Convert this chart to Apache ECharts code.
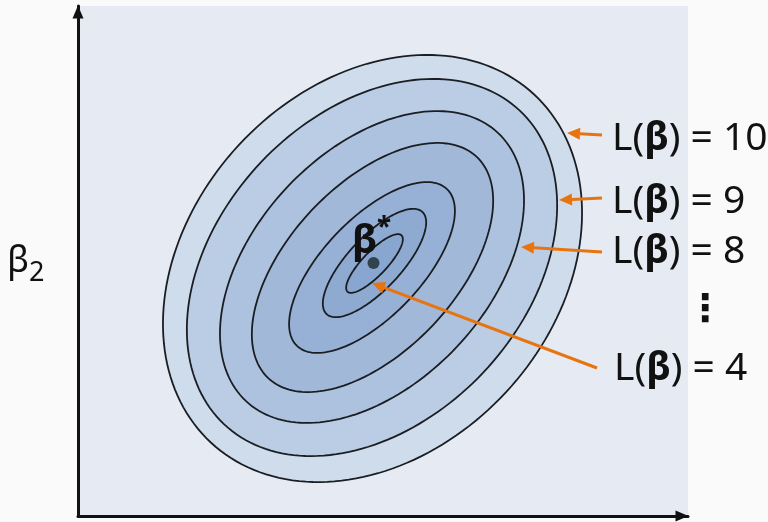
<!DOCTYPE html>
<html>
<head>
<meta charset="utf-8">
<script src="https://cdn.jsdelivr.net/npm/echarts@6/dist/echarts.min.js"></script>
<style>
  html, body { margin: 0; padding: 0; background: #fafafa; }
  #chart { width: 768px; height: 522px; }
</style>
</head>
<body>
<div id="chart"></div>
<script>
// Level sets of the loss L(β), outermost contour first (data units: β1 across, β2 up)
const levels    = [10, 9, 8, 7, 6, 5, 4];
const centerX   = [5.89, 5.88, 5.88, 5.89, 5.88, 5.93, 5.93];
const centerY   = [4.95, 4.97, 4.98, 4.97, 4.97, 5.06, 5.05];
const semiMajor = [4.75, 4.31, 3.68, 3.04, 2.17, 1.40, 0.78];
const semiMinor = [3.64, 3.06, 2.33, 1.67, 0.98, 0.53, 0.24];
const tiltDeg   = [47.1, 46.6, 46.7, 46.7, 46.3, 46.8, 46.2];

// The minimiser β*
const minimum = [5.91, 5.06];

// Annotated levels and the arrows pointing at their contours
const labelledLevels = [10, 9, 8, 4];
const arrowTail = [[10.48, 7.62], [10.48, 6.36], [10.48, 5.28], [10.38, 2.96]];
const arrowTip  = [[9.78, 7.66], [9.62, 6.32], [8.86, 5.38], [5.88, 4.66]];

// Axis ranges
const xRange = [0, 12.2];
const yRange = [0, 10.2];

// Styling
const ringColors = ['#cfdcec', '#bbcde4', '#adc2de', '#a1b8d9', '#97b0d5', '#8eaad1', '#88a6cf'];
const orange = '#e8740f';
const font = 'Noto Sans';
const labelPos = [[612, 139], [612, 202], [612, 252], [614, 369]];

const chart = echarts.init(document.getElementById('chart'), null, { renderer: 'canvas' });

function ellipsePoints(api, i) {
  const th = tiltDeg[i] * Math.PI / 180;
  const c = Math.cos(th), s = Math.sin(th);
  const pts = [];
  const n = 180;
  for (let k = 0; k < n; k++) {
    const t = 2 * Math.PI * k / n;
    const u = semiMajor[i] * Math.cos(t), v = semiMinor[i] * Math.sin(t);
    pts.push(api.coord([centerX[i] + u * c - v * s, centerY[i] + u * s + v * c]));
  }
  return pts;
}

const graphics = labelledLevels.map((lv, i) => ({
  type: 'text',
  x: labelPos[i][0],
  y: labelPos[i][1],
  z: 100,
  style: {
    text: '{n|L(}{b|β}{n|) = ' + lv + '}',
    verticalAlign: 'middle',
    rich: {
      n: { fontFamily: font, fontSize: 39, fill: '#111' },
      b: { fontFamily: font, fontSize: 39, fontWeight: 'bold', fill: '#111' }
    }
  }
}));

graphics.push(
  { type: 'text', x: 705, y: 311, z: 100,
    style: { text: '⋮', fontFamily: 'DejaVu Sans', fontSize: 38, fontWeight: 'bold', fill: '#111', align: 'center', verticalAlign: 'middle' } },
  { type: 'text', x: 7, y: 262, z: 100,
    style: { text: 'β', fontFamily: font, fontSize: 36, fill: '#111', verticalAlign: 'middle' } },
  { type: 'text', x: 29, y: 273, z: 100,
    style: { text: '2', fontFamily: font, fontSize: 27, fill: '#111', verticalAlign: 'middle' } },
  { type: 'text', x: 352, y: 242, z: 100,
    style: { text: 'β', fontFamily: font, fontSize: 40, fontWeight: 'bold', fill: '#111', verticalAlign: 'middle' } },
  { type: 'text', x: 377, y: 229, z: 100,
    style: { text: '*', fontFamily: font, fontSize: 26, fontWeight: 'bold', fill: '#111', verticalAlign: 'middle' } }
);

const axisLineStyle = {
  show: true, onZero: false,
  symbol: ['none', 'triangle'], symbolSize: [11, 13], symbolOffset: [0, -6],
  lineStyle: { color: '#111', width: 3 }
};

chart.setOption({
  backgroundColor: '#fafafa',
  animation: false,
  grid: {
    left: 78, top: 6, width: 610, height: 510,
    show: true, backgroundColor: '#e6ebf3', borderWidth: 0
  },
  xAxis: {
    type: 'value', min: xRange[0], max: xRange[1],
    splitLine: { show: false }, axisTick: { show: false }, axisLabel: { show: false },
    axisLine: axisLineStyle
  },
  yAxis: {
    type: 'value', min: yRange[0], max: yRange[1],
    splitLine: { show: false }, axisTick: { show: false }, axisLabel: { show: false },
    axisLine: axisLineStyle
  },
  graphic: graphics,
  series: [
    {
      type: 'custom',
      name: 'contours',
      data: levels.map((lv, i) => [i, lv]),
      renderItem: (params, api) => {
        const i = api.value(0);
        return {
          type: 'polygon',
          shape: { points: ellipsePoints(api, i) },
          style: { fill: ringColors[i], stroke: '#1a1e22', lineWidth: 1.8 }
        };
      },
      z: 2
    },
    {
      type: 'scatter',
      name: 'minimum',
      data: [minimum],
      symbolSize: 12,
      itemStyle: { color: '#1b2a2a' },
      z: 3
    },
    {
      type: 'custom',
      name: 'arrows',
      clip: false,
      data: labelledLevels.map((lv, i) => [i, lv]),
      renderItem: (params, api) => {
        const i = api.value(0);
        const p0 = api.coord(arrowTail[i]);
        const p1 = api.coord(arrowTip[i]);
        const dx = p1[0] - p0[0], dy = p1[1] - p0[1];
        const len = Math.hypot(dx, dy);
        const ux = dx / len, uy = dy / len;
        const hl = 13, hw = 6;
        const bx = p1[0] - ux * hl, by = p1[1] - uy * hl;
        return {
          type: 'group',
          children: [
            { type: 'line', shape: { x1: p0[0], y1: p0[1], x2: bx, y2: by },
              style: { stroke: orange, lineWidth: 3 } },
            { type: 'polygon',
              shape: { points: [p1, [bx - uy * hw, by + ux * hw], [bx + uy * hw, by - ux * hw]] },
              style: { fill: orange } }
          ]
        };
      },
      z: 4
    }
  ]
});
</script>
</body>
</html>
